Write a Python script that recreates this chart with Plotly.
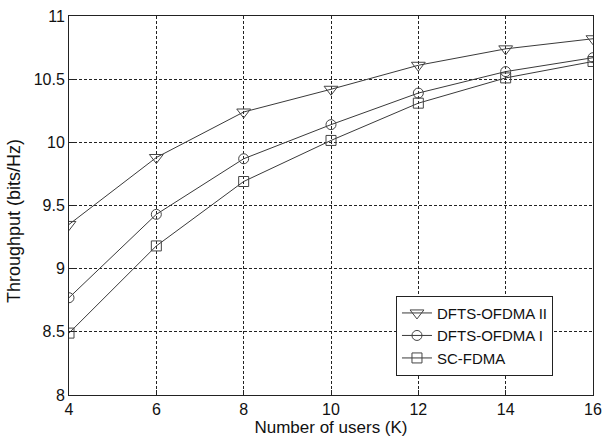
import plotly.graph_objects as go

users = [4, 6, 8, 10, 12, 14, 16]
dfts_ofdma_ii = [9.35, 9.88, 10.24, 10.42, 10.61, 10.74, 10.82]
dfts_ofdma_i = [8.77, 9.43, 9.87, 10.14, 10.39, 10.56, 10.67]
sc_fdma = [8.49, 9.18, 9.69, 10.015, 10.31, 10.51, 10.64]

series = [
    ("DFTS-OFDMA II", dfts_ofdma_ii, "triangle-down-open", 12),
    ("DFTS-OFDMA I", dfts_ofdma_i, "circle-open", 10),
    ("SC-FDMA", sc_fdma, "square-open", 10),
]

FONT = "Liberation Sans, Arial, sans-serif"

fig = go.Figure()
for name, vals, sym, sz in series:
    fig.add_trace(go.Scatter(
        x=users, y=vals, name=name, mode="lines+markers",
        line=dict(color="#3a3a3a", width=1),
        marker=dict(symbol=sym, size=sz, color="#444444", line=dict(width=1)),
    ))

axis_common = dict(
    showline=True, linecolor="#222222", linewidth=1, mirror=True,
    showgrid=True, gridcolor="#222222", griddash="3px,2px", gridwidth=1,
    ticks="inside", ticklen=5, tickcolor="#222222",
    zeroline=False,
    tickfont=dict(family=FONT, size=16, color="#111111"),
)

fig.update_layout(
    width=610, height=439,
    margin=dict(l=69, r=8, t=12, b=41),
    paper_bgcolor="white", plot_bgcolor="white",
    font=dict(family=FONT, color="#111111"),
    showlegend=True,
    legend=dict(
        x=0.624, y=0.262, xanchor="left", yanchor="top",
        bordercolor="#222222", borderwidth=1, bgcolor="white",
        font=dict(size=15, family=FONT), tracegroupgap=0,
    ),
    xaxis=dict(
        range=[4, 16], tickvals=[4, 6, 8, 10, 12, 14, 16],
        title=dict(text="Number of users (K)", font=dict(size=17), standoff=1),
        **axis_common,
    ),
    yaxis=dict(
        range=[8, 11], tickvals=[8, 8.5, 9, 9.5, 10, 10.5, 11],
        ticktext=["8", "8.5", "9", "9.5", "10", "10.5", "11"],
        **axis_common,
    ),
    annotations=[dict(
        text="Throughput (bits/Hz)", textangle=-90,
        xref="paper", yref="paper", x=-0.1053, y=0.4587,
        xanchor="center", yanchor="middle", showarrow=False,
        font=dict(size=18, family=FONT, color="#111111"),
    )],
)

fig.write_html("out.html")
